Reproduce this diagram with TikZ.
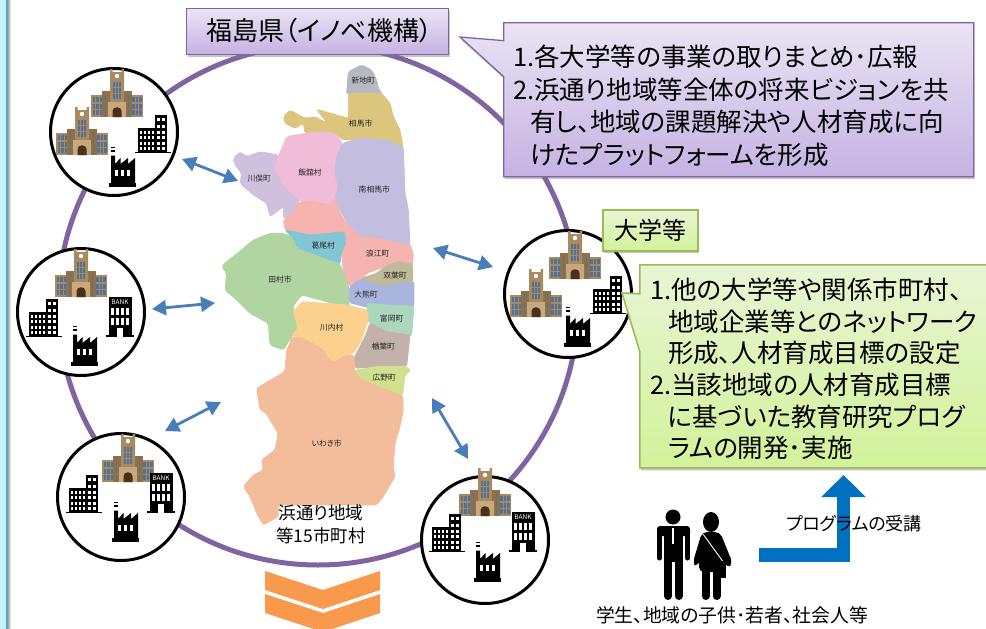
\documentclass[tikz,border=0pt]{standalone}
\usepackage{fontspec}
\setmainfont{Noto Sans CJK JP}[RawFeature={+palt}]
\usetikzlibrary{arrows.meta,shapes.callouts,shadows}
\definecolor{ringpurple}{HTML}{8064A2}
\definecolor{arrowblue}{HTML}{4A7EBB}
\definecolor{bentblue}{HTML}{0070C0}
\definecolor{orangechev}{HTML}{F9994B}
\definecolor{boxgreen}{HTML}{9BBB59}
\definecolor{stripcyan}{HTML}{C8F0FF}
\definecolor{stripteal}{HTML}{4BACC6}
\definecolor{univwall}{HTML}{A98A60}
\definecolor{univdark}{HTML}{8F7049}
\definecolor{univlight}{HTML}{C9A97C}
\definecolor{univwin}{HTML}{4F7398}
\definecolor{univdoor}{HTML}{4A3018}
\tikzset{
        hub/.style={circle,draw=black,line width=3pt,fill=white,minimum size=127pt,inner sep=0pt},
        dblarrow/.style={{Triangle[length=14pt,width=15pt]}-{Triangle[length=14pt,width=15pt]},line width=2.8pt,arrowblue},
        purplebox/.style={draw=ringpurple,line width=1.3pt,top color=purpletop,bottom color=purplebot,
                drop shadow={shadow xshift=1pt,shadow yshift=-2.5pt,opacity=.45}},
        greenbox/.style={draw=boxgreen,line width=1.6pt,top color=greentop,bottom color=greenbot,
                drop shadow={shadow xshift=1pt,shadow yshift=-2.5pt,opacity=.45}},
        boxtext/.style={anchor=north west,align=left,inner sep=0pt,font=\fontsize{25.5}{32.5}\selectfont},
        maplabel/.style={inner sep=0pt,font=\fontsize{7.8}{8}\selectfont,text=black!85},
        caption/.style={inner sep=0pt,font=\fontsize{17.5}{23}\selectfont,align=center},
        mapregion/.style={rounded corners=2pt,fill=#1,draw=#1,line width=0.8pt},
        univ/.pic={
                \fill [univwall] (-26,-22) rectangle (26,0);
                \fill [univdark] (-15,-26) rectangle (15,0);
                \fill [univwall] (-7,-48) -- (-4.5,-48) -- (-4.5,-45) -- (4.5,-45) -- (4.5,-48) -- (7,-48) -- (7,0) -- (-7,0) -- cycle;
                \fill [white] (0,-41) circle (2.2);
                \foreach \x in {-24.5,-21,-17.5,15,18.5,22}
                        \foreach \y in {-20,-13.5,-7}
                                \fill [univwin] (\x,\y) rectangle +(2.5,5);
                \foreach \x in {-12.5,10.5}
                        \foreach \y in {-23,-15,-7}
                                \fill [univwin] (\x,\y) rectangle +(1.8,6);
                \foreach \x in {-4,-0.9,2.2}
                        \foreach \y in {-35,-29,-23}
                                \fill [univwin] (\x,\y) rectangle +(1.8,4.5);
                \fill [univlight] (-9,-15) rectangle (9,0);
                \fill [univdoor] (-4.5,0) -- (-4.5,-6) .. controls (-4.5,-11) and (4.5,-11) .. (4.5,-6) -- (4.5,0) -- cycle;
        },
        office/.pic={
                \fill (-18,-1.5) rectangle (18,0);
                \fill (-15,-25) rectangle (2,0);
                \fill (2,-38) rectangle (14,0);
                \foreach \x in {-13.5,-9.5,-5.5,-1.5}
                        \foreach \y in {-22.5,-17,-11.5,-6}
                                \fill [white] (\x,\y) rectangle +(2.6,3);
                \foreach \x in {4,9}
                        \foreach \y in {-35,-28,-22.5,-17,-11.5,-6}
                                \fill [white] (\x,\y) rectangle +(2.8,3.2);
        },
        bank/.pic={
                \fill (-14,-2) rectangle (14,0);
                \fill (-11.5,-40) rectangle (11.5,0);
                \node (banktxt) at (0,-35) [inner sep=0pt,text=white,font=\fontsize{6.5}{7}\selectfont] {BANK};
                \foreach \x in {-9,-4,1,6}
                        \foreach \y in {-29,-19}
                                \fill [white] (\x,\y) rectangle +(2.6,7);
                \fill [white] (-3.3,-9) rectangle (3.3,0);
        },
        factory/.pic={
                \fill (-13.5,-4) rectangle (13.5,0);
                \fill (-11.5,-31.5) -- (-7.5,-31.5) -- (-7.5,-23) -- (-2,-29) -- (-2,-23) -- (5.5,-29) -- (5.5,-23) -- (12.5,-29) -- (12.5,-3) -- (-11.5,-3) -- cycle;
                \fill (-11.5,-40.5) rectangle (-7.5,-39);
                \fill (-11.5,-37.5) rectangle (-7.5,-35.5);
                \foreach \x in {-8,-2,4}
                        \fill [white] (\x,-17) rectangle +(3.8,5.8);
        },
}
\definecolor{purpletop}{HTML}{EAE4F4}
\definecolor{purplebot}{HTML}{C5B2E3}
\definecolor{greentop}{HTML}{E8F5D4}
\definecolor{greenbot}{HTML}{D2F29A}
\definecolor{shinchicol}{HTML}{B8B8C2}
\definecolor{somacol}{HTML}{DCC67E}
\definecolor{iitatecol}{HTML}{F0BCD8}
\definecolor{minamicol}{HTML}{C3BDDF}
\definecolor{kawamatacol}{HTML}{CFC1DD}
\definecolor{namiecol}{HTML}{F5B4B0}
\definecolor{katsuraocol}{HTML}{82C5D3}
\definecolor{tamuracol}{HTML}{B0D5A0}
\definecolor{futabacol}{HTML}{BEBA9A}
\definecolor{okumacol}{HTML}{A9B5DD}
\definecolor{tomiokacol}{HTML}{ACD6BD}
\definecolor{kawauchicol}{HTML}{FBD18D}
\definecolor{narahacol}{HTML}{C3B2AB}
\definecolor{hironocol}{HTML}{D0E08F}
\definecolor{iwakicol}{HTML}{F3BD9B}
\begin{document}
\begin{tikzpicture}[x=1pt,y=-1pt]
        \useasboundingbox (0,0) rectangle (986,629);
        \fill [stripcyan] (0,0) rectangle (6,629);
        \fill [left color=black!35,right color=white] (8,0) rectangle (11,629);
        \fill [stripteal] (6,0) rectangle (8,629);
        \node (ring) at (318,305) [circle,draw=ringpurple,line width=5pt,minimum size=520pt,inner sep=0pt] {};
        \begin{scope}[shift={(220,60)},x=0.3333pt,y=-0.3333pt]
                \path [mapregion=shinchicol] (385,35) -- (425,15) -- (455,30) -- (470,60) -- (475,85) -- (487,102) -- (380,102) -- cycle;
                \path [mapregion=somacol] (385,100) -- (485,100) -- (510,130) -- (520,170) -- (540,210) -- (550,265) -- (500,240) -- (370,240) -- (345,220) -- (310,215) -- (255,220) -- (250,190) -- (225,205) -- (195,190) -- (190,170) -- (210,150) -- (255,175) -- (285,170) -- (322,190) -- (290,148) -- (385,175) -- cycle;
                \path [mapregion=iitatecol] (175,290) -- (200,230) -- (255,220) -- (310,215) -- (345,220) -- (368,250) -- (350,290) -- (345,340) -- (355,380) -- (345,415) -- (330,435) -- (280,425) -- (240,425) -- (190,380) -- (160,320) -- cycle;
                \path [mapregion=minamicol] (368,250) -- (420,235) -- (500,240) -- (550,262) -- (555,400) -- (565,450) -- (570,555) -- (540,555) -- (480,535) -- (420,530) -- (400,515) -- (365,460) -- (345,415) -- (355,380) -- (345,340) -- (350,290) -- cycle;
                \path [mapregion=kawamatacol] (40,295) -- (60,275) -- (80,290) -- (120,275) -- (175,285) -- (160,320) -- (190,380) -- (240,425) -- (205,470) -- (190,475) -- (190,440) -- (150,470) -- (140,430) -- (100,405) -- (60,370) -- (65,340) -- (45,315) -- cycle;
                \path [mapregion=namiecol] (240,425) -- (280,425) -- (330,435) -- (345,415) -- (365,470) -- (400,510) -- (420,530) -- (480,535) -- (540,552) -- (570,552) -- (580,580) -- (578,615) -- (530,605) -- (495,620) -- (440,640) -- (425,660) -- (390,680) -- (370,640) -- (365,575) -- (378,545) -- (372,515) -- (330,520) -- (270,525) -- (195,510) -- (190,480) -- (205,470) -- cycle;
                \path [mapregion=katsuraocol] (195,510) -- (270,525) -- (330,520) -- (372,515) -- (378,545) -- (365,575) -- (360,612) -- (310,595) -- (230,565) -- (215,530) -- cycle;
                \path [mapregion=tamuracol] (190,520) -- (215,530) -- (230,565) -- (310,595) -- (360,612) -- (370,640) -- (385,675) -- (388,745) -- (320,725) -- (245,705) -- (218,740) -- (235,800) -- (215,830) -- (190,870) -- (150,855) -- (145,790) -- (90,760) -- (50,720) -- (15,690) -- (20,640) -- (5,620) -- (25,600) -- (40,590) -- (100,540) -- (150,520) -- cycle;
                \path [mapregion=futabacol] (425,655) -- (470,640) -- (495,620) -- (530,605) -- (578,612) -- (578,668) -- (540,670) -- (490,680) -- (450,670) -- cycle;
                \path [mapregion=okumacol] (388,682) -- (425,655) -- (450,670) -- (490,680) -- (540,670) -- (582,665) -- (582,740) -- (500,735) -- (440,742) -- (388,728) -- cycle;
                \path [mapregion=tomiokacol] (442,730) -- (500,735) -- (582,738) -- (575,828) -- (500,815) -- (450,790) -- (440,775) -- cycle;
                \path [mapregion=kawauchicol] (220,755) -- (245,725) -- (380,735) -- (442,750) -- (445,780) -- (420,850) -- (400,880) -- (370,890) -- (340,910) -- (320,890) -- (310,870) -- (250,835) -- (215,825) -- (235,805) -- cycle;
                \path [mapregion=narahacol] (450,790) -- (500,815) -- (570,825) -- (560,920) -- (470,920) -- (405,925) -- (400,900) -- (420,860) -- (435,830) -- cycle;
                \path [mapregion=hironocol] (400,932) -- (470,920) -- (560,920) -- (572,932) -- (555,945) -- (548,1005) -- (500,990) -- (450,970) -- (420,955) -- cycle;
                \path [mapregion=iwakicol] (215,830) -- (250,835) -- (310,870) -- (320,890) -- (340,910) -- (370,890) -- (400,885) -- (405,925) -- (400,932) -- (420,955) -- (450,970) -- (500,990) -- (548,1005) -- (550,1050) -- (540,1100) -- (525,1150) -- (520,1220) -- (525,1250) -- (490,1310) -- (470,1335) -- (175,1335) -- (175,1370) -- (130,1395) -- (110,1360) -- (90,1310) -- (70,1280) -- (100,1245) -- (130,1230) -- (125,1200) -- (165,1170) -- (175,1120) -- (150,1080) -- (140,1060) -- (120,1050) -- (110,985) -- (160,955) -- (195,935) -- (200,870) -- (210,850) -- cycle;
                \node (shinchi) at (430,62) [maplabel] {新地町};
                \node (soma) at (422,190) [maplabel] {相馬市};
                \node (kawamata) at (118,356) [maplabel] {川俣町};
                \node (iitate) at (270,337) [maplabel] {飯舘村};
                \node (minamisoma) at (463,390) [maplabel] {南相馬市};
                \node (katsurao) at (310,557) [maplabel] {葛尾村};
                \node (namie) at (473,582) [maplabel] {浪江町};
                \node (futaba) at (525,647) [maplabel] {双葉町};
                \node (tamura) at (180,660) [maplabel] {田村市};
                \node (okuma) at (438,703) [maplabel] {大熊町};
                \node (kawauchi) at (335,802) [maplabel] {川内村};
                \node (tomioka) at (515,777) [maplabel] {富岡町};
                \node (naraha) at (490,860) [maplabel] {楢葉町};
                \node (hirono) at (493,952) [maplabel] {広野町};
                \node (iwaki) at (320,1152) [maplabel] {いわき市};
        \end{scope}
        \node (area) at (321,524) [caption] {浜通り地域\\等15市町村};
        \node (huba) at (114,132) [hub] {};
        \node (hubb) at (81,312) [hub] {};
        \node (hubc) at (121,497) [hub] {};
        \node (hubd) at (485,540) [hub] {};
        \node (hube) at (568,294) [hub] {};
        \pic at (117,117) {univ};
        \pic at (82,155) {univ};
        \pic at (153,153) {office};
        \pic at (122.5,187) {factory};
        \pic at (81,297) {univ};
        \pic at (44,337) {office};
        \pic at (120,337) {bank};
        \pic at (84.5,366) {factory};
        \pic at (128,482) {univ};
        \pic at (84,513) {office};
        \pic at (161,513) {bank};
        \pic at (125.5,542) {factory};
        \pic at (485,516) {univ};
        \pic at (447,552) {office};
        \pic at (523,552) {bank};
        \pic at (487.5,582) {factory};
        \pic at (575,279) {univ};
        \pic at (536,317) {univ};
        \pic at (608,314) {office};
        \pic at (577.5,347) {factory};
        \coordinate (a1) at (182,159);
        \coordinate (a2) at (238,181);
        \coordinate (b1) at (152,309);
        \coordinate (b2) at (215,303);
        \coordinate (c1) at (165,431);
        \coordinate (c2) at (221,402);
        \coordinate (d1) at (433,248);
        \coordinate (d2) at (493,267);
        \coordinate (e1) at (432,398);
        \coordinate (e2) at (468,459);
        \draw [dblarrow] (a1) -- (a2);
        \draw [dblarrow] (b1) -- (b2);
        \draw [dblarrow] (c1) -- (c2);
        \draw [dblarrow] (d1) -- (d2);
        \draw [dblarrow] (e1) -- (e2);
        \node (pref) at (186,8) [anchor=north west,purplebox,minimum width=262pt,minimum height=46pt,inner sep=0pt] {};
        \node (preftxt) at (206,31) [anchor=west,inner sep=0pt,font=\fontsize{26}{28}\selectfont] {福島県（イノベ機構）};
        \node (talka) at (503,22) [anchor=north west,purplebox,rectangle callout,callout absolute pointer={(460,37)},callout pointer width=36pt,minimum width=470pt,minimum height=154pt,inner sep=0pt] {};
        \node (talkatxt) at (513,45) [boxtext] {1.各大学等の事業の取りまとめ･広報\\2.浜通り地域等全体の将来ビジョンを共\\\hspace*{17pt}有し、地域の課題解決や人材育成に向\\\hspace*{17pt}けたプラットフォームを形成};
        \node (uni) at (602,209) [anchor=north west,greenbox,minimum width=95pt,minimum height=41pt,inner sep=0pt] {};
        \node (unitxt) at (614,230) [anchor=west,inner sep=0pt,font=\fontsize{24}{26}\selectfont] {大学等};
        \node (talkb) at (639,264) [anchor=north west,greenbox,rectangle callout,callout absolute pointer={(622,293)},callout pointer width=58pt,minimum width=352pt,minimum height=203pt,inner sep=0pt] {};
        \node (talkbtxt) at (650,278) [boxtext,font=\fontsize{25.5}{31.6}\selectfont] {1.他の大学等や関係市町村、\\\hspace*{18pt}地域企業等とのネットワーク\\\hspace*{18pt}形成、人材育成目標の設定\\2.当該地域の人材育成目標\\\hspace*{18pt}に基づいた教育研究プログ\\\hspace*{18pt}ラムの開発･実施};
        \coordinate (bendstart) at (759,555);
        \coordinate (bendtip) at (843.5,475);
        \draw [bentblue,line width=13.5pt,-{Triangle[length=22pt,width=43pt]}] (bendstart) -| (bendtip);
        \node (take) at (854,524) [inner sep=0pt,font=\fontsize{18}{19}\selectfont] {プログラムの受講};
        \fill (673,517) circle (7.5);
        \fill [rounded corners=3pt] (657,526) rectangle (690,536);
        \draw [line width=5pt,line cap=round] (659.5,530) -- (659.5,558);
        \draw [line width=5pt,line cap=round] (687.5,530) -- (687.5,558);
        \fill (663.5,526) rectangle (683,562);
        \draw [line width=8pt,line cap=round] (668,558) -- (668,596);
        \draw [line width=8pt,line cap=round] (678.5,558) -- (678.5,596);
        \draw [white,line width=1.2pt] (673,528) -- (673,544);
        \fill (711,522) ellipse (8 and 10);
        \fill [rounded corners=5pt] (702,532) -- (720,532) -- (733,564) -- (727,568) -- (722,558) -- (722,572) -- (699,572) -- (699,560) -- (696,568) -- (693,562) -- cycle;
        \draw [line width=8pt,line cap=round] (705.5,565) -- (705.5,596);
        \draw [line width=8pt,line cap=round] (716.5,565) -- (716.5,596);
        \draw [white,line width=0.9pt] (703,534) -- (724,563);
        \fill (721,561) rectangle (726,578);
        \node (people) at (732,615) [inner sep=0pt,font=\fontsize{18.8}{20}\selectfont] {学生、地域の子供･若者、社会人等};
        \fill [orangechev] (265,571) -- (323,590) -- (380,571) -- (380,590) -- (323,609) -- (265,590) -- cycle;
        \fill [orangechev] (265,594) -- (323,613) -- (380,594) -- (380,613) -- (323,632) -- (265,613) -- cycle;
\end{tikzpicture}
\end{document}
